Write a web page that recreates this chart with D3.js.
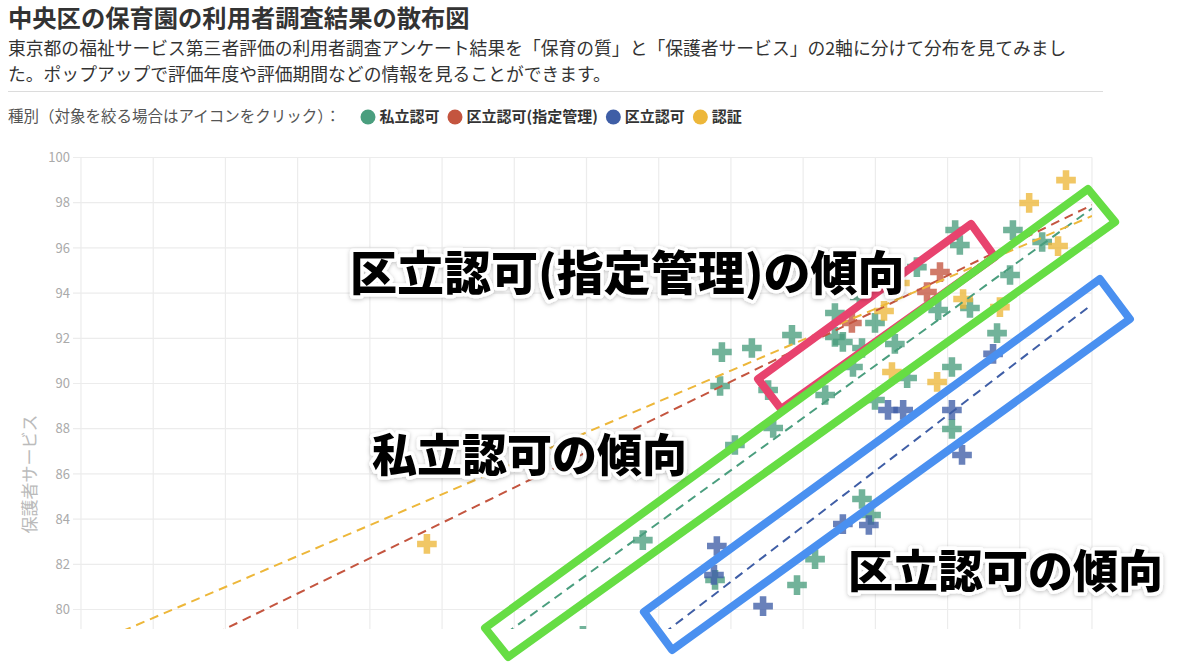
<!DOCTYPE html>
<html><head><meta charset="utf-8">
<script src="https://cdn.jsdelivr.net/npm/d3@7"></script>
<style>
body{margin:0;background:#fff;font-family:"Noto Sans CJK JP","Noto Sans",sans-serif;}
svg text{font-family:"Noto Sans CJK JP","Noto Sans",sans-serif;}
</style></head><body>
<svg id="c" width="1200" height="662"></svg>
<script>
// ---------- data ----------
const categories = ["私立認可", "区立認可(指定管理)", "区立認可", "認証"];
const yTickLabels = [80, 82, 84, 86, 88, 90, 92, 94, 96, 98, 100];
const xGridValues = [72, 74, 76, 78, 80, 82, 84, 86, 88, 90, 92, 94, 96, 98, 100];

// [保育の質, 保護者サービス]
const shiritsuPoints = [
  [85.90, 78.83], [87.56, 83.07], [90.11, 87.28], [91.17, 88.03], [89.56, 81.31],
  [91.83, 81.08], [92.33, 82.23], [93.63, 84.89], [93.88, 84.18], [96.12, 87.99],
  [89.70, 89.89], [89.75, 91.39], [90.58, 91.57], [91.69, 92.15], [91.03, 89.71],
  [92.88, 93.12], [92.88, 92.06], [93.10, 91.84], [93.57, 93.83], [93.99, 92.68],
  [93.63, 91.57], [93.38, 90.73], [94.54, 91.75], [94.88, 90.24], [93.99, 89.27],
  [92.61, 89.49], [95.15, 95.15], [95.74, 93.25], [96.21, 96.79], [96.34, 96.13],
  [97.81, 96.79], [98.62, 96.26], [97.73, 94.80], [96.62, 93.34], [97.37, 92.23],
  [96.12, 90.73]
];
const shiteiPoints = [[95.79, 94.93], [95.43, 94.05], [93.35, 92.68]];
const kuritsuPoints = [
  [89.61, 82.81], [89.53, 81.53], [90.89, 80.15], [93.10, 83.78], [93.82, 83.74],
  [94.35, 88.83], [94.77, 88.83], [96.12, 88.83], [96.40, 86.84], [97.26, 91.31]
];
const ninshoPoints = [
  [81.58, 82.90], [99.28, 99.00], [98.26, 97.99], [99.06, 96.08], [94.68, 94.45],
  [94.24, 93.21], [96.43, 93.74], [97.45, 93.38], [94.46, 90.51], [95.71, 90.07],
  [91.14, 94.93]
];

// trend lines (endpoints in data units)
const shiritsuTrend = [[72, 65.30], [100, 97.75]];
const shiteiTrend   = [[72, 76.02], [100, 97.90]];
const kuritsuTrend  = [[72, 59.14], [100, 93.50]];
const ninshoTrend   = [[72, 78.26], [100, 97.41]];

// annotation boxes (corners in data units) and labels
const annoPinkBox  = [[90.75, 90.20], [91.39, 88.87], [97.31, 95.60], [96.65, 97.06]];
const annoGreenBox = [[83.19, 79.18], [83.83, 77.90], [100.64, 97.15], [99.89, 98.61]];
const annoBlueBox  = [[87.59, 79.89], [88.37, 78.21], [101.05, 92.85], [100.22, 94.62]];
const annoLabels = ["区立認可(指定管理)の傾向", "私立認可の傾向", "区立認可の傾向"];
const annoLabelAt = [[79.45, 94.14], [80.06, 86.08], [93.24, 80.95]];

// ---------- styles ----------
const seriesColors = ["#4a9e7e", "#c4553f", "#3f5ea6", "#edb73a"];
const annoColors = ["#e8436e", "#66dd44", "#4a90f0"];

// ---------- drawing ----------
const svg = d3.select("#c");
const x = d3.scaleLinear().domain([72, 100]).range([81, 1092]);
const y = d3.scaleLinear().domain([80, 100]).range([609.5, 157.5]);
const plotBottom = 629;

// header
svg.append("text").attr("x", 8).attr("y", 27).attr("font-size", 24.3).attr("font-weight", 700)
  .attr("fill", "#333").text("中央区の保育園の利用者調査結果の散布図");
const sub = svg.append("text").attr("x", 8).attr("y", 55).attr("font-size", 17.8).attr("fill", "#333");
sub.append("tspan").attr("x", 8).attr("y", 55)
  .text("東京都の福祉サービス第三者評価の利用者調査アンケート結果を「保育の質」と「保護者サービス」の2軸に分けて分布を見てみまし");
sub.append("tspan").attr("x", 8).attr("y", 81)
  .text("た。ポップアップで評価年度や評価期間などの情報を見ることができます。");
svg.append("line").attr("x1", 8).attr("x2", 1103).attr("y1", 91.5).attr("y2", 91.5)
  .attr("stroke", "#dcdcdc").attr("stroke-width", 1);

// legend
const lg = svg.append("g");
const lt = lg.append("text").attr("x", 8).attr("y", 122).attr("font-size", 15.5).attr("fill", "#555")
  .text("種別（対象を絞る場合はアイコンをクリック）：");
let lx = 8 + lt.node().getComputedTextLength() + 20;
categories.forEach((c, i) => {
  lg.append("circle").attr("cx", lx + 7.5).attr("cy", 117).attr("r", 7.5).attr("fill", seriesColors[i]);
  const t = lg.append("text").attr("x", lx + 19).attr("y", 122).attr("font-size", 15)
    .attr("font-weight", 700).attr("fill", "#333").text(c);
  lx += 19 + t.node().getComputedTextLength() + 8;
});

// grid
const grid = svg.append("g");
grid.selectAll(".hg").data(yTickLabels).join("line")
  .attr("x1", x(72) - 8).attr("x2", x(100)).attr("y1", d => y(d)).attr("y2", d => y(d))
  .attr("stroke", "#ececec").attr("stroke-width", 1.2);
grid.selectAll(".vg").data(xGridValues).join("line")
  .attr("x1", d => x(d)).attr("x2", d => x(d)).attr("y1", y(100)).attr("y2", plotBottom)
  .attr("stroke", "#ececec").attr("stroke-width", 1.2);

// y axis labels
const yAxis = d3.axisLeft(y).tickValues(yTickLabels).tickSize(0).tickPadding(11);
const ya = svg.append("g").attr("transform", `translate(${x(72)},0)`).call(yAxis);
ya.select(".domain").remove();
ya.selectAll("text").attr("font-size", 13).attr("fill", "#aaa")
  .attr("font-family", "'Noto Sans CJK JP','Noto Sans',sans-serif");
svg.append("text").attr("transform", `translate(36,474) rotate(-90)`)
  .attr("text-anchor", "middle").attr("font-size", 17).attr("fill", "#bbb").text("保護者サービス");

// clip
svg.append("defs").append("clipPath").attr("id", "plotclip").append("rect")
  .attr("x", x(72)).attr("y", y(100) - 20).attr("width", x(100) - x(72) + 10).attr("height", plotBottom - y(100) + 20);

const plot = svg.append("g").attr("clip-path", "url(#plotclip)");

// points
const allSeries = [shiritsuPoints, shiteiPoints, kuritsuPoints, ninshoPoints];
const cross = d3.symbol().type(d3.symbolCross).size(215);
allSeries.forEach((pts, i) => {
  plot.append("g").selectAll("path").data(pts).join("path")
    .attr("d", cross)
    .attr("transform", d => `translate(${x(d[0])},${y(d[1])})`)
    .attr("fill", seriesColors[i]).attr("fill-opacity", 0.78);
});

// trend lines
svg.append("defs").append("clipPath").attr("id", "trendclip").append("rect")
  .attr("x", x(72)).attr("y", y(100)).attr("width", x(100) - x(72)).attr("height", plotBottom - y(100));
const lineGen = d3.line().x(d => x(d[0])).y(d => y(d[1]));
const trends = [shiritsuTrend, shiteiTrend, kuritsuTrend, ninshoTrend];
const tg = svg.append("g").attr("clip-path", "url(#trendclip)");
trends.forEach((t, i) => {
  tg.append("path").attr("d", lineGen(t)).attr("fill", "none")
    .attr("stroke", seriesColors[i]).attr("stroke-width", 2).attr("stroke-dasharray", "9,6");
});

// annotations
const boxes = [annoPinkBox, annoGreenBox, annoBlueBox];
const polyGen = d3.line().x(d => x(d[0])).y(d => y(d[1])).curve(d3.curveLinearClosed);
boxes.forEach((b, i) => {
  svg.append("path").attr("d", polyGen(b)).attr("fill", "none")
    .attr("stroke", annoColors[i]).attr("stroke-width", 8).attr("stroke-linejoin", "round");
});

const defs = svg.append("defs");
const f = defs.append("filter").attr("id", "shadow").attr("x", "-10%").attr("y", "-30%").attr("width", "120%").attr("height", "160%");
f.append("feDropShadow").attr("dx", 0).attr("dy", 1).attr("stdDeviation", 2).attr("flood-color", "#000").attr("flood-opacity", 0.25);

const annoSizes = [47, 45, 45];
annoLabels.forEach((t, i) => {
  svg.append("text").attr("x", x(annoLabelAt[i][0])).attr("y", y(annoLabelAt[i][1]))
    .attr("font-size", annoSizes[i]).attr("font-weight", 900).attr("fill", "#000")
    .attr("stroke", "#fff").attr("stroke-width", 7).attr("stroke-linejoin", "round")
    .attr("paint-order", "stroke").attr("filter", "url(#shadow)").text(t);
});
</script>
</body></html>
